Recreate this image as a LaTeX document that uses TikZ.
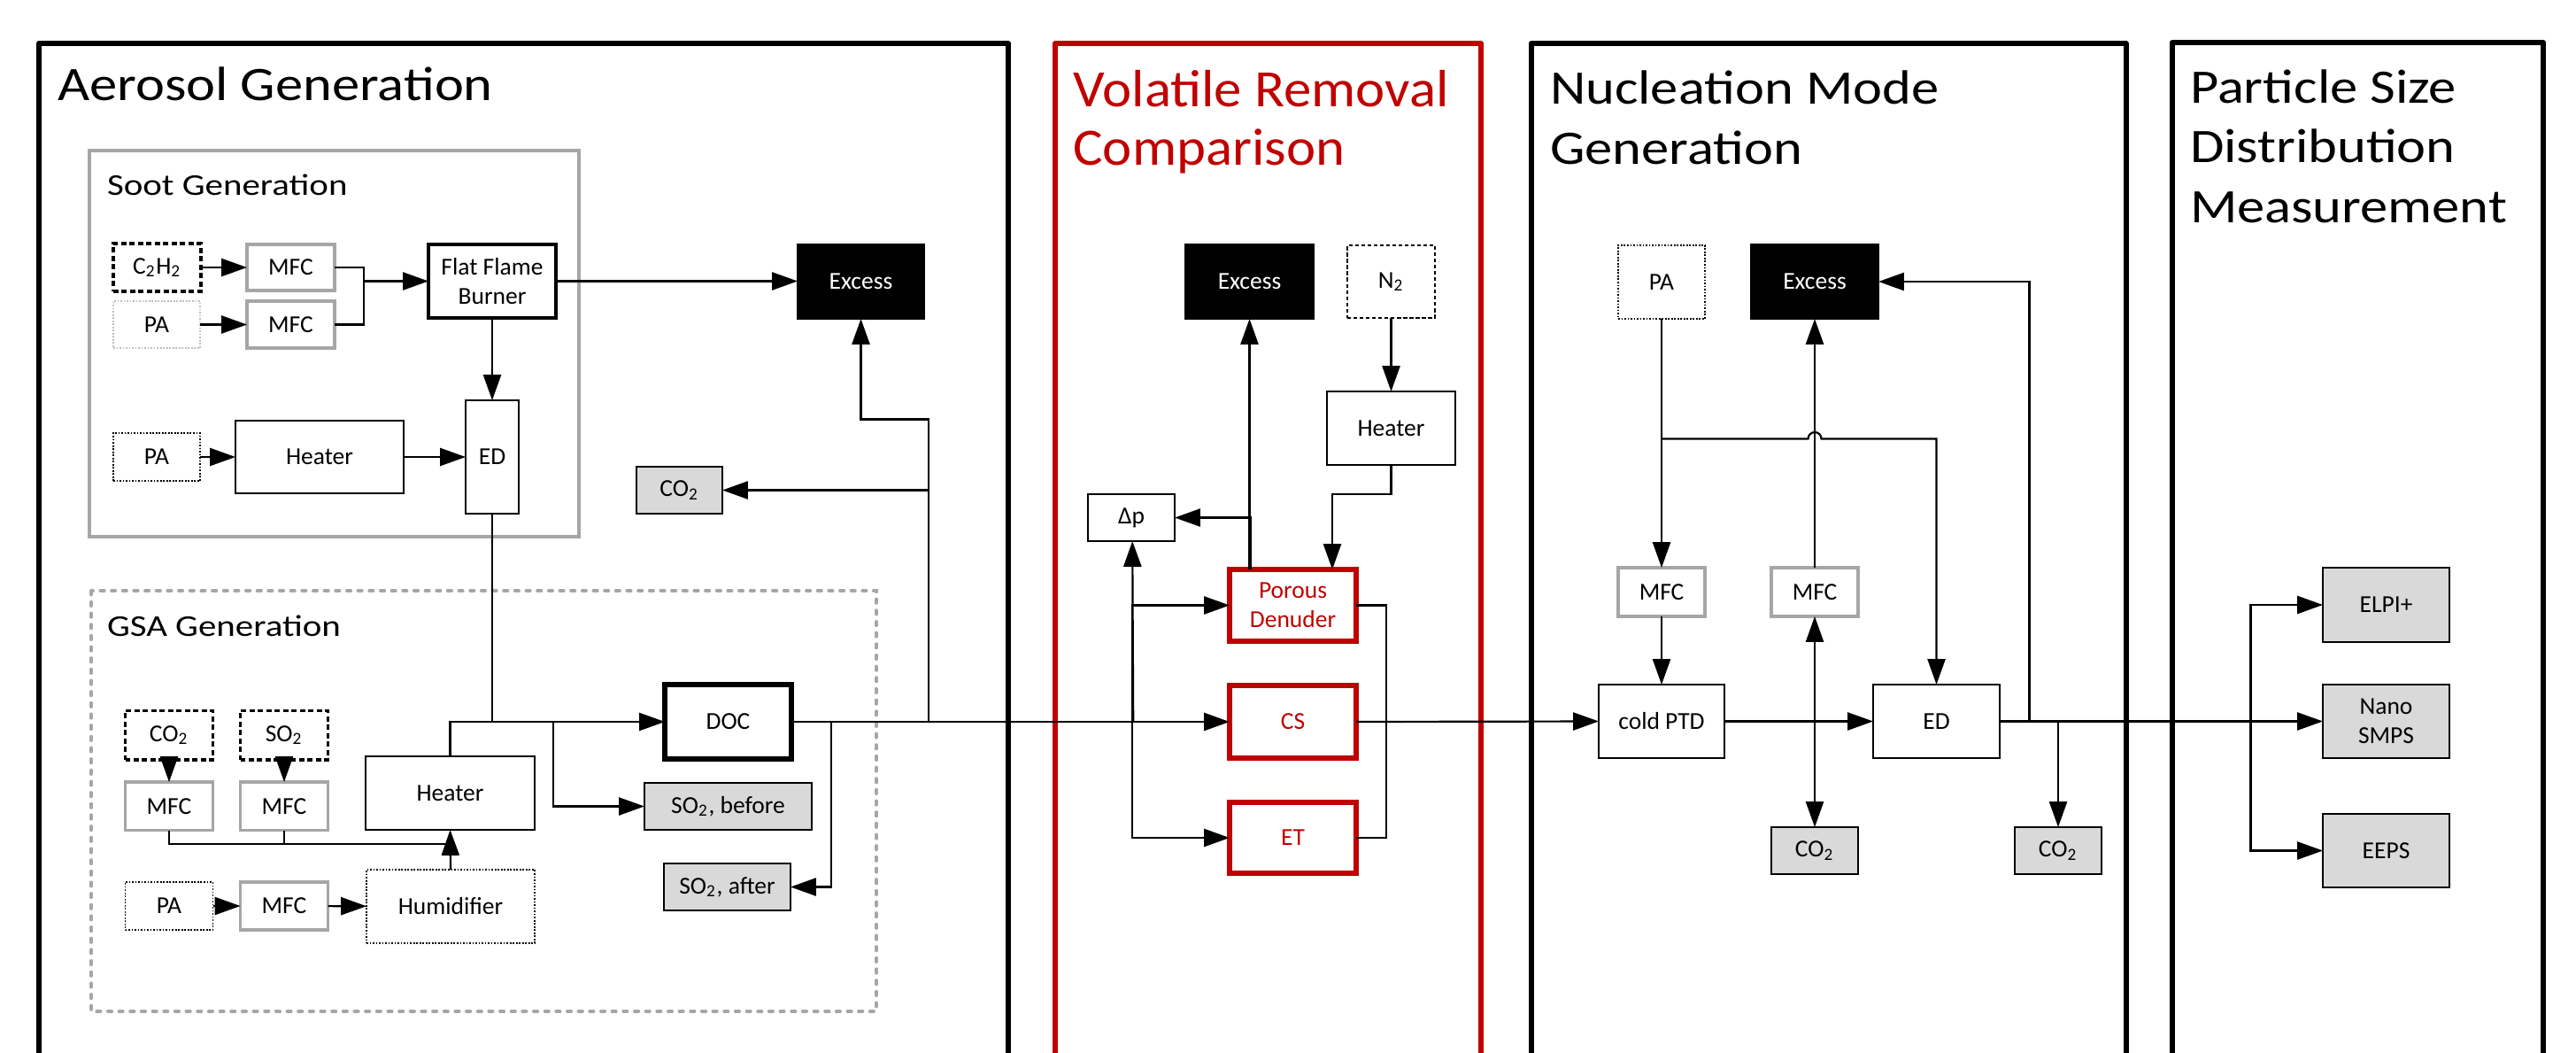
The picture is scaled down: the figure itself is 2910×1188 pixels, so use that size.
\documentclass[tikz,border=0pt]{standalone}
\usepackage{fontspec}
\setmainfont{Carlito}
\newfontfamily\titlefont[FakeStretch=1.15]{Carlito}
\newfontfamily\redtitlefont[FakeStretch=1.06]{Carlito}
\newfontfamily\subtitlefont[FakeStretch=1.2]{Carlito}
\usetikzlibrary{arrows.meta}

\definecolor{vrred}{HTML}{C00000}
\definecolor{mfcgray}{HTML}{A6A6A6}
\definecolor{boxfill}{HTML}{D9D9D9}
\definecolor{lightdot}{HTML}{BFBFBF}

% box from its corners (x1,y1)-(x2,y2), in picture units
\newcommand\bx[7]{%
  \pgfmathsetmacro\bxw{(#4-#2)*0.01}%
  \pgfmathsetmacro\bxh{(#5-#3)*0.01}%
  \node[#6, minimum width=\bxw cm, minimum height=\bxh cm] (#1) at ({(#2+#4)/2},{(#3+#5)/2}) {#7};}

\tikzset{
  every node/.style={inner sep=0pt, outer sep=0pt},
  unit/.style={draw, fill=white, line width=0.55pt, align=center,
    font=\fontsize{7.82}{9.3}\selectfont},
  plain/.style={unit},
  heavy/.style={unit, line width=0.95pt},
  docbox/.style={unit, line width=1.45pt},
  mfc/.style={unit, draw=mfcgray, line width=1pt},
  gas/.style={unit, line width=1pt, dash pattern=on 1.7pt off 1pt},
  supply/.style={unit, line width=0.45pt, dash pattern=on 0.5pt off 0.5pt},
  palight/.style={unit, draw=lightdot, line width=0.45pt, dash pattern=on 0.5pt off 0.5pt},
  nitro/.style={unit, line width=0.6pt, dash pattern=on 1.2pt off 0.8pt},
  excess/.style={unit, fill=black, text=white},
  meas/.style={unit, fill=boxfill, line width=0.65pt},
  vrbox/.style={unit, draw=vrred, text=vrred, line width=1.7pt},
  line/.style={line width=0.62pt},
  flow/.style={line, -{Triangle[length=8.2pt,width=5.7pt]}},
  dflow/.style={line, {Triangle[length=8.2pt,width=5.7pt]}-{Triangle[length=8.2pt,width=5.7pt]}},
  panel/.style={line width=1.7pt, line join=round},
  sootframe/.style={draw=mfcgray, line width=1pt},
  gsaframe/.style={draw=mfcgray, line width=1pt, line cap=round, dash pattern=on 1.3pt off 2.3pt},
  ttl/.style={anchor=base west, font=\titlefont\fontsize{15.45}{19}\selectfont},
  redttl/.style={anchor=base west, text=vrred, font=\redtitlefont\fontsize{16.85}{19}\selectfont},
  subttl/.style={anchor=base west, font=\subtitlefont\fontsize{9.7}{12}\selectfont},
}

\begin{document}
\begin{tikzpicture}[x=0.01cm, y=-0.01cm]
\useasboundingbox (0,0) rectangle (2910,1188);
\clip (0,0) rectangle (2910,1188);
\fill[white] (0,0) rectangle (2910,1188);

% ---------- section frames ----------
\draw[panel] (44,1230) -- (44,49) -- (1139,49) -- (1139,1230);
\draw[panel, draw=vrred] (1192,1230) -- (1192,49) -- (1673,49) -- (1673,1230);
\draw[panel] (1730,1230) -- (1730,49) -- (2401.5,49) -- (2401.5,1230);
\draw[panel] (2454,1230) -- (2454,48) -- (2873,48) -- (2873,1230);

\node[ttl] (tAero) at (65,113.4) {Aerosol Generation};
\node[redttl] (tVol1) at (1212.5,120.7) {Volatile Removal};
\node[redttl] (tVol2) at (1212.5,186.5) {Comparison};
\node[ttl] (tNuc1) at (1751,118) {Nucleation Mode};
\node[ttl] (tNuc2) at (1751,185.5) {Generation};
\node[ttl] (tPsd1) at (2474,116.7) {Particle Size};
\node[ttl] (tPsd2) at (2474,183.8) {Distribution};
\node[ttl] (tPsd3) at (2474,251.3) {Measurement};

% ---------- soot generation ----------
\draw[sootframe] (101,170) rectangle (654,606);
\node[subttl] (tSoot) at (121,220.2) {Soot Generation};

\bx{sootC}{128}{275}{227}{329}{gas}{C\textsubscript{2}H\textsubscript{2}}
\bx{sootMa}{279}{276}{378}{328}{mfc}{MFC}
\bx{sootPA}{128}{340}{226}{393}{palight}{PA}
\bx{sootMb}{279}{340}{378}{393}{mfc}{MFC}
\bx{ffb}{484}{276}{628}{359}{heavy}{Flat Flame\\Burner}
\bx{sootPAb}{128}{489}{226}{543}{supply}{PA}
\bx{sootH}{266}{475}{456}{557}{plain}{Heater}
\bx{sootED}{526}{452}{586}{580}{plain}{ED}

\bx{exA}{901}{276}{1044}{360}{excess}{Excess}
\bx{co2A}{719}{527}{816}{580}{meas}{CO\textsubscript{2}}

% ---------- GSA generation ----------
\draw[gsaframe] (103,667) rectangle (990,1142);
\node[subttl] (tGsa) at (121,718) {GSA Generation};

\bx{gCO}{141.5}{802.5}{240.5}{858}{gas}{CO\textsubscript{2}}
\bx{gSO}{271.5}{802.5}{370.5}{858}{gas}{SO\textsubscript{2}}
\bx{gMa}{141.5}{883}{240.5}{937.5}{mfc}{MFC}
\bx{gMb}{271.5}{883}{370.5}{937.5}{mfc}{MFC}
\bx{gH}{413}{854}{604}{937}{plain}{Heater}
\bx{doc}{751}{773}{894}{857}{docbox}{DOC}
\bx{soB}{728}{884}{917}{937}{meas}{SO\textsubscript{2}, before}
\bx{soA}{750}{975}{893}{1028}{meas}{SO\textsubscript{2}, after}
\bx{gPA}{141.5}{996}{240.5}{1050}{supply}{PA}
\bx{gMc}{271.5}{996}{370.5}{1050}{mfc}{MFC}
\bx{hum}{414}{982}{604}{1065}{supply}{Humidifier}

% ---------- volatile removal ----------
\bx{exV}{1339}{276}{1484}{360}{excess}{Excess}
\bx{nit}{1522}{277}{1621}{359}{nitro}{N\textsubscript{2}}
\bx{vH}{1499}{442}{1644}{525}{plain}{Heater}
\bx{dp}{1229}{558}{1327}{611}{plain}{Δp}
\bx{pd}{1389}{643}{1532}{724}{vrbox}{Porous\\Denuder}
\bx{cs}{1389}{774}{1532}{856}{vrbox}{CS}
\bx{et}{1389}{906}{1532}{986}{vrbox}{ET}

% ---------- nucleation mode ----------
\bx{nPA}{1828}{277}{1926}{360}{supply}{PA}
\bx{exN}{1978}{276}{2122}{360}{excess}{Excess}
\bx{nMa}{1828}{641}{1926}{696}{mfc}{MFC}
\bx{nMb}{2001}{641}{2099}{696}{mfc}{MFC}
\bx{ptd}{1806}{773}{1948}{856}{plain}{cold PTD}
\bx{nED}{2116}{773}{2259}{856}{plain}{ED}
\bx{co2B}{2001}{934}{2099}{987}{meas}{CO\textsubscript{2}}
\bx{co2C}{2276}{934}{2374}{987}{meas}{CO\textsubscript{2}}

% ---------- size distribution instruments ----------
\bx{elpi}{2624}{641}{2767}{725}{meas}{ELPI+}
\bx{smps}{2624}{773}{2767}{856}{meas}{Nano\\SMPS}
\bx{eeps}{2624}{919}{2767}{1002}{meas}{EEPS}

% ---------- junction points ----------
\coordinate (jSoot) at (411,317.5);
\coordinate (jSootDown) at (556,815);
\coordinate (jBefore) at (625,815);
\coordinate (jAfter) at (939,815);
\coordinate (jEx) at (1049,815);
\coordinate (bendEx) at (1049,473.5);
\coordinate (jCO) at (1049,553.5);
\coordinate (jMix) at (508.5,953);
\coordinate (jVR) at (1279,815);
\coordinate (vrBend) at (1505,558);
\coordinate (jMerge) at (1566,815);
\coordinate (jPA) at (1877,495.5);
\coordinate (hopL) at (2042.5,495.5);
\coordinate (jRet) at (2292.5,815);
\coordinate (jCO2) at (2325,815);
\coordinate (jPSD) at (2542.5,815);

% ---------- soot connections ----------
\draw[flow] (sootC) -- (sootMa);
\draw[flow] (sootPA) -- (sootMb);
\draw[line] (sootMa.east) -| (jSoot) |- (sootMb.east);
\draw[flow] (jSoot) -- (ffb.west);
\draw[flow] (ffb.east) -- (exA.west |- ffb.east);
\draw[flow] (ffb) -- (sootED);
\draw[flow] (sootPAb) -- (sootH);
\draw[flow] (sootH) -- (sootED);
\draw[line] (sootED.south) -- (jSootDown);

% ---------- GSA connections ----------
\draw[flow] (gCO) -- (gMa);
\draw[flow] (gSO) -- (gMb);
\draw[line] (gMa.south) |- (jMix);
\draw[line] (gMb.south) -- (gMb.south |- jMix);
\draw[flow] (hum.north) -- (gH.south);
\draw[flow] (gPA) -- (gMc);
\draw[flow] (gMc) -- (hum);
\draw[flow] (gH.north) |- (doc.west);
\draw[flow] (jBefore) |- (soB.west);
\draw[flow] (jAfter) |- (soA.east);
\draw[flow] (jEx) -- (bendEx) -| (exA.south);
\draw[flow] (jCO) -- (co2A.east);

% ---------- main line and volatile removal ----------
\draw[flow] (doc.east) -- (cs.west);
\draw[flow] (jVR) |- (pd.west);
\draw[flow] (jVR) |- (et.west);
\draw[flow] ([xshift=0.012cm]jVR) -- ([xshift=0.012cm]dp.south);
\draw[flow] (exV |- pd.north) -- (exV.south);
\draw[flow] ([xshift=0.015cm]exV |- pd.north) |- (dp.east);
\draw[flow] (nit) -- (vH);
\draw[flow] (vH.south) |- (vrBend) -- (pd.north -| vrBend);
\draw[line] (pd.east) -| (jMerge);
\draw[line] (et.east) -| (jMerge);
\draw[flow] (cs.east) -- (ptd.west);

% ---------- nucleation mode connections ----------
\draw[flow] (nPA) -- (nMa);
\draw[flow] (nMa) -- (ptd);
\draw[flow] (jPA) -- (hopL) arc[start angle=180, end angle=0, radius=0.075cm] -| (nED.north);
\draw[flow] (nMb) -- (exN);
\draw[dflow] (nMb) -- (co2B);
\draw[flow] (ptd) -- (nED);
\draw[flow] (jRet) |- (exN.east);
\draw[flow] (jCO2) -- (co2C);
\draw[flow] (nED) -- (smps);
\draw[flow] (jPSD) |- (elpi.west);
\draw[flow] (jPSD) |- (eeps.west);
\end{tikzpicture}
\end{document}
